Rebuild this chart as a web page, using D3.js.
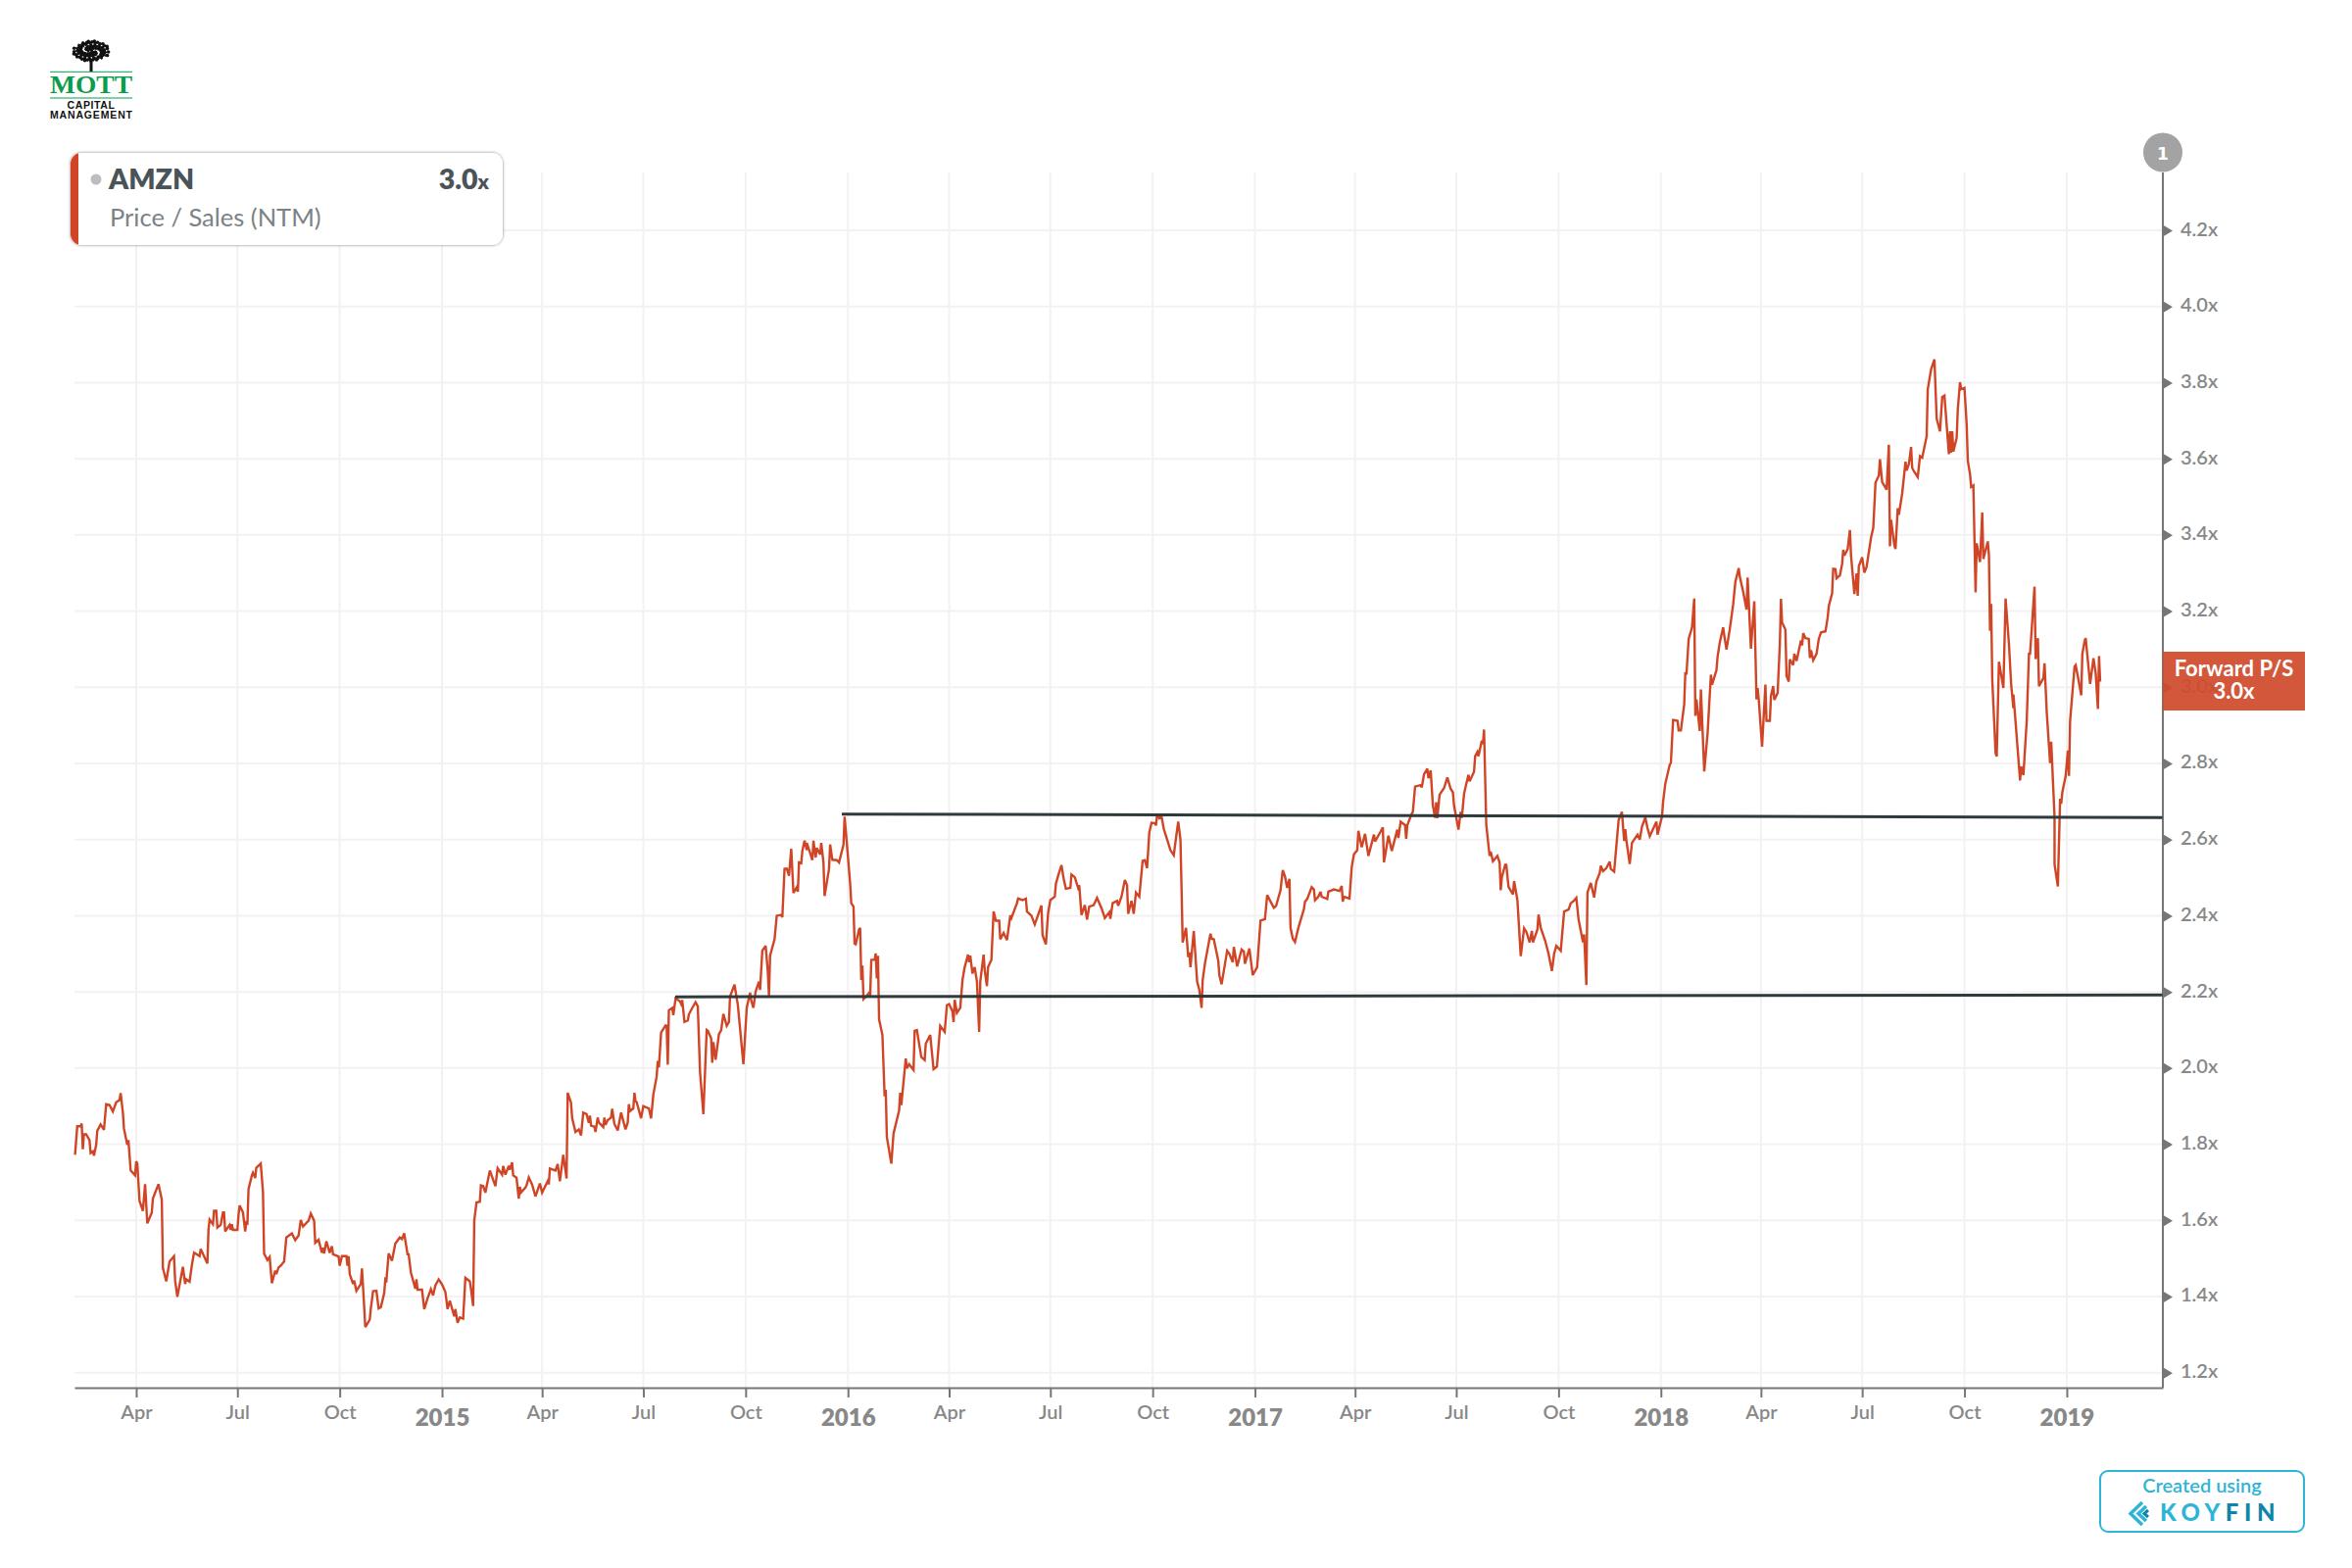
<!DOCTYPE html>
<html>
<head>
<meta charset="utf-8">
<script src="https://cdn.jsdelivr.net/npm/d3@7"></script>
<style>
  html, body { margin: 0; padding: 0; background: #fff; }
  svg { display: block; }
  text { font-family: Lato, "Open Sans", sans-serif; }
</style>
</head>
<body>
<div id="chart"></div>
<script>
const days2014 = [-330,-328,-325,-324,-323,-322,-320,-317,-316,-314,-313,-311,-310,-307,-304,-302,-299,-296,-293,-290,-289,-287,-286,-283,-282,-280,-276,-275,-274,-272,-269,-267,-265,-261,-260,-255,-252,-251,-248,-245,-241,-240,-238,-233,-231,-230,-227,-225,-223,-218,-217,-211,-210,-209,-206,-205,-203,-202,-199,-197,-196,-195,-191,-190,-189,-188,-184,-183,-182,-179,-177,-176,-175,-174,-171,-170,-168,-167,-163,-161,-160,-157,-155,-153,-150,-149,-147,-145,-142,-140,-135,-132,-129,-127,-125,-120,-118,-115,-114,-111,-108,-107,-106,-104,-101,-99,-98,-93,-92,-90,-86,-85,-84,-83,-80,-79,-77,-73,-72,-71,-69,-65,-64,-62,-59,-57,-55,-52,-51,-50,-48,-45,-42,-38,-36,-34,-31,-30,-28,-24,-23,-22,-18,-16,-13,-10,-8,-6,-3];
const ps2014 = [1.772,1.847,1.847,1.854,1.787,1.826,1.826,1.811,1.777,1.781,1.770,1.798,1.835,1.852,1.838,1.905,1.903,1.886,1.910,1.916,1.934,1.884,1.841,1.798,1.811,1.731,1.718,1.755,1.749,1.651,1.625,1.695,1.592,1.620,1.657,1.695,1.655,1.475,1.440,1.492,1.506,1.442,1.399,1.478,1.433,1.445,1.439,1.481,1.515,1.506,1.525,1.487,1.575,1.602,1.590,1.625,1.625,1.581,1.588,1.621,1.621,1.571,1.588,1.575,1.590,1.575,1.575,1.614,1.639,1.621,1.571,1.594,1.592,1.682,1.718,1.725,1.711,1.738,1.749,1.674,1.513,1.496,1.504,1.435,1.468,1.459,1.476,1.481,1.492,1.555,1.566,1.548,1.560,1.601,1.584,1.599,1.618,1.599,1.541,1.549,1.515,1.528,1.513,1.545,1.515,1.532,1.511,1.505,1.481,1.506,1.506,1.481,1.506,1.459,1.433,1.442,1.415,1.433,1.474,1.425,1.320,1.339,1.369,1.414,1.415,1.369,1.372,1.409,1.445,1.442,1.513,1.494,1.539,1.555,1.551,1.566,1.511,1.511,1.463,1.421,1.445,1.418,1.418,1.367,1.395,1.419,1.403,1.429,1.445];

const days2015 = [0,3,5,7,11,12,14,16,19,21,25,26,28,29,31,34,35,37,39,43,48,50,54,55,57,60,61,63,64,67,69,70,71,75,76,78,81,84,88,90,96,96,97,102,104,106,109,112,113,116,117,120,123,125,127,130,132,133,134,137,138,140,141,145,146,147,149,152,153,155,158,161,165,167,168,169,172,173,174,175,179,181,186,188,190,193,194,195,197,201,202,203,204,207,208,210,214,216,216,218,221,222,225,228,230,232,235,238,239,242,243,244,246,249,251,253,256,258,259,263,266,271,274,277,278,280,282,285,286,288,291,293,294,295,299,301,305,306,308,310,312,314,316,319,320,321,323,324,326,328,328,330,333,334,336,337,340,341,343,344,348,349,351,355,357,361,362,364];
const ps2015 = [1.432,1.412,1.367,1.389,1.348,1.367,1.331,1.345,1.342,1.449,1.440,1.421,1.375,1.600,1.647,1.649,1.692,1.690,1.673,1.731,1.690,1.737,1.720,1.743,1.720,1.743,1.733,1.752,1.718,1.712,1.657,1.688,1.673,1.686,1.692,1.713,1.694,1.663,1.697,1.673,1.709,1.694,1.736,1.731,1.748,1.703,1.772,1.710,1.935,1.909,1.869,1.832,1.839,1.823,1.883,1.879,1.856,1.875,1.849,1.846,1.832,1.870,1.857,1.845,1.870,1.851,1.863,1.870,1.893,1.853,1.836,1.883,1.839,1.857,1.905,1.887,1.894,1.935,1.913,1.911,1.868,1.900,1.894,1.868,1.930,1.978,2.019,2.002,2.093,2.112,2.111,2.009,2.152,2.158,2.139,2.183,2.175,2.162,2.179,2.121,2.125,2.141,2.158,2.173,2.162,1.990,1.879,2.100,2.098,2.078,2.014,2.068,2.022,2.089,2.099,2.142,2.111,2.121,2.188,2.219,2.166,2.010,2.158,2.198,2.178,2.158,2.201,2.227,2.205,2.308,2.321,2.252,2.190,2.295,2.338,2.400,2.402,2.396,2.523,2.524,2.505,2.576,2.460,2.475,2.463,2.540,2.538,2.570,2.597,2.572,2.591,2.574,2.546,2.597,2.553,2.578,2.561,2.591,2.540,2.452,2.523,2.587,2.547,2.546,2.540,2.587,2.660,2.591];

const days2016 = [367,368,370,371,372,375,376,377,378,379,382,385,385,386,389,390,391,392,393,396,398,399,400,404,406,411,412,413,417,418,420,424,425,427,431,434,435,439,442,445,448,452,454,456,459,460,461,463,466,468,470,473,474,475,477,479,481,483,484,487,488,490,491,494,496,498,501,502,505,508,511,512,517,518,522,525,526,530,533,539,540,543,545,547,551,552,554,557,559,561,565,566,569,572,573,575,578,580,582,586,589,593,596,600,601,603,607,608,611,614,616,617,620,622,624,627,630,632,634,636,638,641,642,643,645,647,649,653,655,658,660,662,664,665,666,669,671,672,673,676,679,681,683,684,686,691,692,694,698,699,701,706,708];
const ps2016 = [2.484,2.433,2.424,2.327,2.325,2.364,2.368,2.231,2.269,2.181,2.190,2.201,2.188,2.284,2.285,2.301,2.235,2.295,2.128,2.087,1.926,1.943,1.819,1.749,1.828,1.888,1.935,1.903,2.025,1.999,2.010,1.995,2.098,2.100,2.029,2.021,2.064,2.087,1.997,2.004,2.111,2.095,2.165,2.168,2.149,2.121,2.179,2.145,2.158,2.231,2.265,2.298,2.278,2.295,2.248,2.265,2.227,2.095,2.227,2.298,2.257,2.215,2.265,2.284,2.411,2.387,2.387,2.338,2.355,2.336,2.401,2.394,2.433,2.445,2.441,2.445,2.411,2.400,2.377,2.427,2.349,2.325,2.407,2.441,2.450,2.484,2.505,2.533,2.497,2.471,2.473,2.508,2.501,2.473,2.480,2.402,2.428,2.390,2.424,2.428,2.447,2.420,2.394,2.409,2.392,2.433,2.439,2.426,2.450,2.494,2.480,2.405,2.439,2.405,2.461,2.450,2.544,2.546,2.525,2.619,2.644,2.643,2.637,2.666,2.656,2.660,2.628,2.591,2.572,2.559,2.604,2.647,2.600,2.471,2.330,2.368,2.291,2.304,2.265,2.360,2.227,2.205,2.158,2.231,2.274,2.353,2.340,2.338,2.282,2.244,2.220,2.308,2.300];

const days2017 = [711,712,715,719,721,722,726,729,733,736,740,742,748,750,754,756,758,760,762,763,765,767,770,775,776,778,782,784,785,788,790,791,796,797,802,807,809,810,811,816,818,820,823,824,827,830,833,838,839,844,846,847,851,854,859,860,862,866,867,868,872,873,875,880,881,883,886,887,889,891,893,894,895,897,901,904,907,909,910,914,916,917,919,921,923,924,928,929,931,932,935,936,937,939,942,943,945,949,951,952,953,956,957,959,963,964,967,970,973,975,978,980,981,985,986,988,992,995,998,1000,1002,1006,1009,1013,1015,1018,1020,1022,1026,1027,1029,1030,1033,1036,1038,1041,1042,1044,1047,1050,1051,1054,1058,1061,1063,1064,1065,1068,1070,1075,1077,1079,1082,1084,1086,1092,1093];
const ps2017 = [2.278,2.318,2.267,2.311,2.306,2.274,2.314,2.244,2.265,2.387,2.391,2.454,2.421,2.426,2.467,2.520,2.503,2.473,2.497,2.368,2.340,2.331,2.368,2.417,2.437,2.444,2.475,2.469,2.441,2.450,2.463,2.450,2.444,2.463,2.469,2.465,2.478,2.437,2.450,2.445,2.527,2.561,2.572,2.623,2.580,2.615,2.557,2.613,2.595,2.621,2.632,2.540,2.610,2.570,2.626,2.604,2.647,2.638,2.602,2.638,2.668,2.673,2.739,2.743,2.737,2.771,2.786,2.761,2.782,2.690,2.657,2.698,2.656,2.718,2.735,2.763,2.733,2.724,2.690,2.626,2.673,2.657,2.720,2.746,2.770,2.753,2.778,2.819,2.830,2.819,2.860,2.851,2.889,2.639,2.557,2.568,2.543,2.557,2.540,2.467,2.501,2.534,2.534,2.476,2.456,2.491,2.441,2.294,2.367,2.358,2.330,2.360,2.330,2.364,2.403,2.368,2.334,2.300,2.255,2.300,2.321,2.308,2.411,2.416,2.433,2.440,2.447,2.390,2.330,2.351,2.218,2.461,2.486,2.448,2.490,2.512,2.531,2.517,2.525,2.542,2.523,2.516,2.651,2.673,2.596,2.627,2.598,2.536,2.591,2.613,2.600,2.634,2.658,2.630,2.609,2.647,2.613];

const days2018 = [1097,1098,1100,1104,1105,1107,1111,1112,1114,1117,1118,1119,1121,1124,1126,1127,1128,1131,1132,1135,1138,1141,1142,1146,1147,1149,1152,1153,1155,1158,1161,1163,1166,1167,1170,1173,1174,1177,1180,1182,1183,1184,1187,1190,1191,1194,1195,1197,1198,1201,1203,1204,1205,1208,1209,1211,1212,1215,1216,1218,1222,1223,1224,1226,1229,1230,1231,1233,1236,1238,1240,1244,1246,1247,1250,1251,1253,1254,1257,1259,1260,1261,1264,1266,1267,1270,1272,1273,1274,1277,1279,1281,1285,1287,1289,1292,1293,1295,1299,1301,1302,1303,1306,1307,1309,1310,1313,1316,1317,1319,1321,1322,1324,1327,1329,1331,1335,1336,1339,1342,1344,1347,1349,1351,1355,1356,1357,1358,1359,1362,1363,1365,1366,1369,1371,1372,1374,1375,1377,1379,1380,1383,1385,1386,1390,1391,1392,1393,1394,1397,1398,1400,1404,1406,1409,1411,1413,1413,1414,1419,1420,1422,1425,1427,1428,1432,1433,1435,1436,1440,1441,1443,1446,1447,1450,1450,1453,1455,1456,1457,1460];
const ps2018 = [2.660,2.699,2.747,2.797,2.801,2.914,2.912,2.887,2.887,2.955,3.039,3.033,3.127,3.157,3.233,2.925,2.968,2.885,2.994,2.779,2.878,3.033,3.007,3.045,3.080,3.118,3.157,3.136,3.099,3.153,3.217,3.277,3.313,3.290,3.251,3.204,3.288,3.101,3.226,2.968,2.998,2.968,2.844,3.007,2.912,2.912,2.977,3.003,2.967,2.985,3.114,3.232,3.170,3.151,3.030,3.015,3.073,3.058,3.088,3.069,3.123,3.110,3.142,3.129,3.127,3.077,3.097,3.071,3.088,3.127,3.144,3.147,3.183,3.213,3.247,3.311,3.310,3.286,3.294,3.324,3.361,3.346,3.363,3.413,3.346,3.245,3.299,3.240,3.318,3.341,3.301,3.316,3.393,3.419,3.537,3.556,3.599,3.539,3.519,3.637,3.370,3.440,3.372,3.363,3.470,3.453,3.509,3.592,3.569,3.586,3.631,3.576,3.565,3.552,3.607,3.603,3.659,3.783,3.835,3.861,3.706,3.672,3.762,3.766,3.612,3.672,3.616,3.672,3.619,3.655,3.730,3.801,3.783,3.786,3.689,3.595,3.560,3.526,3.530,3.249,3.378,3.329,3.459,3.337,3.383,3.346,3.148,3.219,3.020,2.827,2.818,3.067,2.998,3.233,3.114,3.007,2.945,2.981,2.945,2.755,2.792,2.769,2.912,3.088,3.088,3.264,3.074,3.129,3.003,3.024,3.063,2.934,2.801,2.857,2.659,2.535,2.477,2.707,2.694,2.724,2.767];

const days2019 = [1462,1463,1464,1468,1469,1471,1474,1475,1477,1478,1482,1485,1487,1489,1490,1491];
const ps2019 = [2.834,2.767,2.912,3.054,3.058,3.028,2.979,3.087,3.121,3.129,3.009,3.076,3.037,2.943,3.082,3.015];

const yTicks = [1.2,1.4,1.6,1.8,2.0,2.2,2.4,2.6,2.8,3.0,3.2,3.4,3.6,3.8,4.0,4.2];
const xTickDates = ["2014-04-01","2014-07-01","2014-10-01","2015-01-01","2015-04-01","2015-07-01","2015-10-01","2016-01-01","2016-04-01","2016-07-01","2016-10-01","2017-01-01","2017-04-01","2017-07-01","2017-10-01","2018-01-01","2018-04-01","2018-07-01","2018-10-01","2019-01-01"];

// the two hand drawn support / resistance lines: [day, value]
const upperLine = [[359.5, 2.667], [1547, 2.658]];
const lowerLine = [[209.7, 2.187], [1547, 2.192]];

const width = 2400, height = 1600;
const plot = {left: 76, right: 2207, top: 176, bottom: 1416};
const lineColor = "#cf4526", gridColor = "#f2f2f2", axisColor = "#767676", labelColor = "#888888";

const parseDay = d3.utcParse("%Y-%m-%d");
const day0 = parseDay("2015-01-01");
const toDate = d => d3.utcMinute.offset(day0, d * 1440);

const xScale = d3.scaleUtc()
    .domain([toDate(-330.5), toDate(1547.4)])
    .range([plot.left, plot.right]);
const yScale = d3.scaleLinear()
    .domain([1.2, 4.2])
    .range([1400.7, 235]);

const svg = d3.select("#chart").append("svg")
    .attr("xmlns", "http://www.w3.org/2000/svg")
    .attr("width", width)
    .attr("height", height);

const tickDates = xTickDates.map(parseDay);
const isYear = d => d.getUTCMonth() === 0;

// grid
svg.append("g").selectAll("line").data(yTicks).enter().append("line")
    .attr("x1", plot.left).attr("x2", plot.right)
    .attr("y1", d => yScale(d)).attr("y2", d => yScale(d))
    .attr("stroke", gridColor).attr("stroke-width", 2);
svg.append("g").selectAll("line").data(tickDates).enter().append("line")
    .attr("x1", d => xScale(d)).attr("x2", d => xScale(d))
    .attr("y1", plot.top).attr("y2", plot.bottom)
    .attr("stroke", gridColor).attr("stroke-width", 2);

// bottom axis
const xAxis = svg.append("g")
    .attr("transform", "translate(0," + plot.bottom + ")")
    .call(d3.axisBottom(xScale)
        .tickValues(tickDates)
        .tickSize(10)
        .tickSizeOuter(0)
        .tickFormat(d => isYear(d) ? d3.utcFormat("%Y")(d) : d3.utcFormat("%b")(d)));
xAxis.select(".domain").attr("stroke", axisColor).attr("stroke-width", 2);
xAxis.selectAll(".tick line").attr("stroke", axisColor).attr("stroke-width", 2);
xAxis.selectAll(".tick text")
    .attr("y", d => isYear(d) ? 22 : 18)
    .attr("dy", "0.71em")
    .attr("fill", labelColor)
    .style("font-family", "Lato")
    .style("font-size", d => isYear(d) ? "24px" : "20px")
    .style("font-weight", d => isYear(d) ? 800 : 600);

// right axis, ticks are small triangles
const yAxis = svg.append("g")
    .attr("transform", "translate(" + plot.right + ",0)")
    .call(d3.axisRight(yScale)
        .tickValues(yTicks)
        .tickSize(0)
        .tickPadding(18)
        .tickFormat(d => d.toFixed(1) + "x"));
yAxis.select(".domain").remove();
yAxis.append("line")
    .attr("y1", plot.top).attr("y2", plot.bottom)
    .attr("stroke", axisColor).attr("stroke-width", 2);
yAxis.selectAll(".tick").append("path")
    .attr("d", "M0,-6L10,0L0,6Z")
    .attr("fill", axisColor);
yAxis.selectAll(".tick text")
    .attr("dy", "0.25em")
    .attr("fill", labelColor)
    .style("font-family", "Lato")
    .style("font-size", "20px")
    .style("font-weight", 600);

// series
const days = [...days2014, ...days2015, ...days2016, ...days2017, ...days2018, ...days2019];
const ps = [...ps2014, ...ps2015, ...ps2016, ...ps2017, ...ps2018, ...ps2019];
const series = days.map((d, i) => ({date: toDate(d), value: ps[i]}));

const line = d3.line().x(d => xScale(d.date)).y(d => yScale(d.value));
svg.append("path")
    .datum(series)
    .attr("d", line)
    .attr("fill", "none")
    .attr("stroke", lineColor)
    .attr("stroke-width", 2.4)
    .attr("stroke-linejoin", "miter")
    .attr("stroke-miterlimit", 3);

const trend = d3.line().x(d => xScale(toDate(d[0]))).y(d => yScale(d[1]));
[upperLine, lowerLine].forEach(l => {
    svg.append("path")
        .attr("d", trend(l))
        .attr("fill", "none")
        .attr("stroke", "#2f3a3c")
        .attr("stroke-width", 3);
});

// badge on top of the axis
svg.append("circle").attr("cx", plot.right).attr("cy", 155.5).attr("r", 20).attr("fill", "#a3a3a3");
svg.append("text").attr("x", plot.right).attr("y", 163).attr("text-anchor", "middle")
    .attr("fill", "#fff").style("font-family", "DejaVu Sans").style("font-weight", 700).style("font-size", "17px")
    .text("1");

// last value flag, the axis label stays faintly visible under it
svg.append("rect")
    .attr("x", plot.right).attr("y", 665).attr("width", 145).attr("height", 60)
    .attr("fill", "#cf4a2c").attr("fill-opacity", 0.93);
svg.append("text").attr("x", 2279.5).attr("y", 690).attr("text-anchor", "middle")
    .attr("fill", "#fff").style("font-size", "22px").style("font-weight", 700).text("Forward P/S");
svg.append("text").attr("x", 2279.5).attr("y", 713).attr("text-anchor", "middle")
    .attr("fill", "#fff").style("font-size", "22px").style("font-weight", 700).text(ps[ps.length - 1].toFixed(1) + "x");

// legend box
const defs = svg.append("defs");
const shadow = defs.append("filter").attr("id", "legendShadow")
    .attr("x", "-5%").attr("y", "-10%").attr("width", "110%").attr("height", "120%");
shadow.append("feDropShadow").attr("dx", 0).attr("dy", 0).attr("stdDeviation", 1.5)
    .attr("flood-color", "#000").attr("flood-opacity", 0.5);
defs.append("clipPath").attr("id", "legendClip").append("rect")
    .attr("x", 72).attr("y", 156).attr("width", 441).attr("height", 94).attr("rx", 11);

const legend = svg.append("g");
legend.append("rect")
    .attr("x", 72).attr("y", 156).attr("width", 441).attr("height", 94).attr("rx", 11)
    .attr("fill", "#fff").attr("filter", "url(#legendShadow)");
legend.append("rect")
    .attr("x", 72).attr("y", 156).attr("width", 8).attr("height", 94)
    .attr("fill", lineColor).attr("clip-path", "url(#legendClip)");
legend.append("circle").attr("cx", 98).attr("cy", 183).attr("r", 5.5).attr("fill", "#bdbdbd");
legend.append("text").attr("x", 111).attr("y", 193)
    .attr("fill", "#4a5357").style("font-size", "28.5px").style("font-weight", 800).text("AMZN");
const legendValue = legend.append("text").attr("x", 499).attr("y", 193).attr("text-anchor", "end")
    .attr("fill", "#4a5357").style("font-size", "28.5px").style("font-weight", 800);
legendValue.append("tspan").text("3.0");
legendValue.append("tspan").style("font-size", "21px").text("x");
legend.append("text").attr("x", 112).attr("y", 231)
    .attr("fill", "#7b8285").style("font-size", "25.5px").style("font-weight", 400).text("Price / Sales (NTM)");

// Mott logo
const logo = svg.append("g");
const logoGreen = "#0d9c4b";
logo.append("rect").attr("x", 91.5).attr("y", 60).attr("width", 3).attr("height", 13).attr("fill", "#111");
d3.range(120).forEach(i => {
    const a = i * 2.39996, r = Math.sqrt(i / 120);
    logo.append("circle")
        .attr("cx", 93 + r * 18.5 * Math.cos(a))
        .attr("cy", 52 + r * 10.5 * Math.sin(a))
        .attr("r", i % 4 === 1 ? 0.8 : 1.8)
        .attr("fill", i % 4 === 1 ? "#fff" : "#111")
        .raise();
});
[73.3, 100].forEach(y => {
    logo.append("line").attr("x1", 51).attr("x2", 135).attr("y1", y).attr("y2", y)
        .attr("stroke", logoGreen).attr("stroke-width", 1);
});
logo.append("text").attr("x", 51).attr("y", 95).attr("textLength", 84).attr("lengthAdjust", "spacingAndGlyphs")
    .attr("fill", logoGreen)
    .style("font-family", "Liberation Serif").style("font-size", "25px").style("font-weight", 700).text("MOTT");
logo.append("text").attr("x", 68.5).attr("y", 110.5).attr("textLength", 48.5)
    .attr("fill", "#111").style("font-family", "Liberation Sans").style("font-size", "10.5px").style("font-weight", 700).text("CAPITAL");
logo.append("text").attr("x", 51).attr("y", 121).attr("textLength", 84)
    .attr("fill", "#111").style("font-family", "Liberation Sans").style("font-size", "10.5px").style("font-weight", 700).text("MANAGEMENT");

// Koyfin stamp
const koyBlue = "#2fb4d6", koyDark = "#0f86a8";
const stamp = svg.append("g");
stamp.append("rect")
    .attr("x", 2143).attr("y", 1501).attr("width", 208).attr("height", 62).attr("rx", 8)
    .attr("fill", "#fff").attr("stroke", koyBlue).attr("stroke-width", 2);
stamp.append("text").attr("x", 2247).attr("y", 1523).attr("text-anchor", "middle")
    .attr("fill", koyBlue).style("font-size", "20px").style("font-weight", 600).text("Created using");
stamp.append("path")
    .attr("d", "M2186,1533L2174,1544.5L2186,1556M2190,1537L2182,1544.5L2190,1552")
    .attr("fill", "none").attr("stroke", koyBlue).attr("stroke-width", 3.5);
stamp.append("path")
    .attr("d", "M2192,1541L2188,1544.5L2192,1548")
    .attr("fill", "none").attr("stroke", koyDark).attr("stroke-width", 3);
const koyfin = stamp.append("text").attr("x", 2204).attr("y", 1552)
    .style("font-size", "24px").style("font-weight", 900).style("letter-spacing", "5.6px");
koyfin.append("tspan").attr("fill", koyBlue).text("KOY");
koyfin.append("tspan").attr("fill", koyDark).text("FIN");
</script>
</body>
</html>
